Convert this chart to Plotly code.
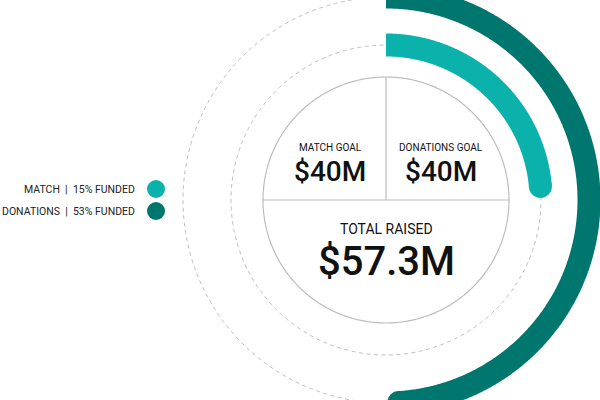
import numpy as np
import plotly.graph_objects as go

# ---- data ----
series = ["MATCH", "DONATIONS"]
funded_pct = [15, 53]
arc_share = [0.236, 0.49]          # share of full ring covered by each arc
goal_labels = ["MATCH GOAL", "DONATIONS GOAL"]
goal_values = ["$40M", "$40M"]
total_label = "TOTAL RAISED"
total_value = "$57.3M"

# ---- styles ----
colors = ["#0BB2AC", "#00776E"]
ring_r = [155, 203]
inner_r = 123
cx, cy = 386, 200
arc_w = 23
grey = "#BDBDBD"
font = "Roboto"

fig = go.Figure()

def circle(r, n=600):
    t = np.linspace(0, 2 * np.pi, n)
    return cx + r * np.sin(t), cy - r * np.cos(t)

# dashed tracks
for r in ring_r:
    x, y = circle(r)
    fig.add_trace(go.Scatter(x=x, y=y, mode="lines", hoverinfo="skip",
                             line=dict(color=grey, width=1, dash="4px,3.5px", simplify=False)))

# inner solid circle and dividers
x, y = circle(inner_r)
fig.add_trace(go.Scatter(x=x, y=y, mode="lines", hoverinfo="skip",
                         line=dict(color=grey, width=1.2, simplify=False)))
fig.add_trace(go.Scatter(x=[cx - inner_r, cx + inner_r], y=[cy, cy], mode="lines",
                         hoverinfo="skip", line=dict(color=grey, width=1.2)))
fig.add_trace(go.Scatter(x=[cx, cx], y=[cy, cy - inner_r], mode="lines",
                         hoverinfo="skip", line=dict(color=grey, width=1.2)))

# progress arcs
for share, r, c in zip(arc_share, ring_r, colors):
    t = np.linspace(0, 2 * np.pi * share, 400)
    x = cx + r * np.sin(t)
    y = cy - r * np.cos(t)
    fig.add_trace(go.Scatter(x=x, y=y, mode="lines", hoverinfo="skip",
                             line=dict(color=c, width=arc_w, simplify=False)))
    fig.add_trace(go.Scatter(x=[x[-1]], y=[y[-1]], mode="markers", hoverinfo="skip",
                             marker=dict(color=c, size=arc_w, line=dict(width=0))))

# legend dots
leg_y = [189, 211]
fig.add_trace(go.Scatter(x=[156, 156], y=leg_y, mode="markers", hoverinfo="skip",
                         marker=dict(color=colors, size=18, line=dict(width=0))))

gap = "\u00a0" * 2
ann = []
for s, p, yy in zip(series, funded_pct, leg_y):
    ann.append(dict(x=137, y=yy, xref="x", yref="y", xanchor="right", yanchor="middle",
                    text=f"{s}{gap}|{gap}{p}% FUNDED", showarrow=False,
                    font=dict(family=font, size=10.5, color="#222222", weight=400)))

for gx, lab, val in zip([330, 441], goal_labels, goal_values):
    ann.append(dict(x=gx, y=147, xref="x", yref="y", xanchor="center", yanchor="middle",
                    text=lab, showarrow=False,
                    font=dict(family=font, size=10, color="#111111", weight=400)))
    ann.append(dict(x=gx, y=171, xref="x", yref="y", xanchor="center", yanchor="middle",
                    text=val, showarrow=False,
                    font=dict(family=font, size=28, color="#111111", weight=500)))

ann.append(dict(x=cx, y=229, xref="x", yref="y", xanchor="center", yanchor="middle",
                text=total_label, showarrow=False,
                font=dict(family=font, size=14, color="#111111", weight=400)))
ann.append(dict(x=cx, y=261, xref="x", yref="y", xanchor="center", yanchor="middle",
                text=total_value, showarrow=False,
                font=dict(family=font, size=40, color="#111111", weight=500)))

fig.update_layout(
    width=600, height=400,
    margin=dict(l=0, r=0, t=0, b=0),
    paper_bgcolor="white", plot_bgcolor="white",
    showlegend=False,
    xaxis=dict(range=[0, 600], visible=False, fixedrange=True),
    yaxis=dict(range=[400, 0], visible=False, fixedrange=True),
    annotations=ann,
)

fig.write_html("out.html", config={"displayModeBar": False})
